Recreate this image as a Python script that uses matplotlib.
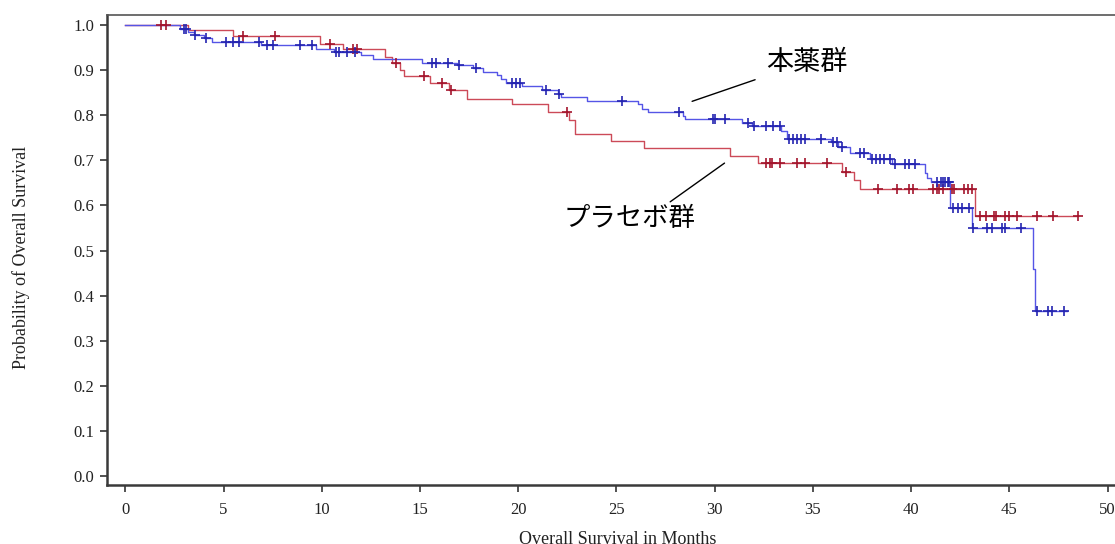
import numpy as np
import matplotlib.pyplot as plt

# Kaplan-Meier curves
# drug arm (本薬群): event times (months) and survival after each step
drug_times = [2.8, 3.2, 3.5, 4.0, 4.4, 6.9, 9.7, 10.6, 12.0, 12.6, 15.1, 16.9, 17.7,
              18.2, 18.9, 19.1, 19.4, 20.2, 21.2, 22.0, 22.2, 23.5, 26.1, 26.3, 26.6,
              28.4, 28.5, 31.4, 31.9, 33.4, 33.7, 35.9, 36.3, 36.9, 37.9, 39.0, 40.7,
              40.8, 41.0, 42.0, 43.1, 46.2, 46.3]
drug_surv = [0.991, 0.985, 0.979, 0.972, 0.962, 0.956, 0.947, 0.940, 0.933, 0.926,
             0.916, 0.911, 0.904, 0.896, 0.889, 0.880, 0.872, 0.865, 0.856, 0.847,
             0.840, 0.831, 0.826, 0.815, 0.808, 0.798, 0.791, 0.784, 0.776, 0.765,
             0.747, 0.741, 0.730, 0.716, 0.704, 0.691, 0.673, 0.662, 0.653, 0.594,
             0.551, 0.459, 0.367]
drug_censor = [3.0, 3.1, 3.55, 4.1, 5.1, 5.5, 5.8, 6.8, 7.2, 7.5, 8.9, 9.5, 10.7, 10.9,
               11.3, 11.7, 15.6, 15.8, 16.4, 17.0, 17.85, 19.7, 19.9, 20.1, 21.4, 22.1,
               25.3, 28.2, 29.9, 30.0, 30.5, 31.7, 32.0, 32.6, 32.95, 33.3, 33.8, 34.0,
               34.2, 34.4, 34.6, 35.4, 36.0, 36.2, 36.5, 37.4, 37.6, 38.0, 38.2, 38.4,
               38.6, 38.9, 39.2, 39.7, 39.9, 40.2, 41.3, 41.5, 41.6, 41.7, 41.9, 41.95,
               42.15, 42.4, 42.6, 42.95, 43.15, 43.85, 44.1, 44.6, 44.8, 45.6, 46.4,
               46.98, 47.15, 47.8]
drug_end = 47.95

# placebo arm (プラセボ群)
plac_times = [3.2, 5.5, 9.9, 11.1, 13.2, 13.6, 14.0, 14.2, 15.5, 16.5, 17.4, 19.7,
              21.5, 22.6, 22.9, 24.7, 26.4, 30.8, 32.2, 36.5, 37.1, 37.4, 43.25]
plac_surv = [0.990, 0.976, 0.959, 0.946, 0.930, 0.916, 0.900, 0.887, 0.872, 0.856,
             0.837, 0.825, 0.808, 0.790, 0.758, 0.743, 0.727, 0.710, 0.695, 0.675,
             0.656, 0.636, 0.577]
plac_censor = [1.8, 2.05, 6.0, 7.6, 10.4, 11.6, 11.8, 13.8, 15.2, 16.1, 16.6, 22.5,
               32.6, 32.8, 32.9, 33.3, 34.2, 34.6, 35.7, 36.7, 38.3, 39.3, 39.9, 40.1,
               41.1, 41.3, 41.4, 41.6, 42.1, 42.2, 42.7, 42.9, 43.1, 43.5, 43.8, 44.2,
               44.3, 44.8, 45.0, 45.4, 46.4, 47.2, 48.5]
plac_end = 48.5

x_ticks = [0, 5, 10, 15, 20, 25, 30, 35, 40, 45, 50]
y_ticks = [0.0, 0.1, 0.2, 0.3, 0.4, 0.5, 0.6, 0.7, 0.8, 0.9, 1.0]

fig = plt.figure(figsize=(11.15, 5.44), dpi=100)
# axes runs past the right edge, like the cropped original
ax = fig.add_axes([0.096, 0.1085, 0.915, 0.8635])


def km_curve(times, surv, censor, end, line_col, mark_col):
    t = np.r_[0.0, times, end]
    s = np.r_[1.0, surv, surv[-1]]
    ax.step(t, s, where="post", color=line_col, lw=1.0, zorder=2)
    idx = np.searchsorted(t, censor, side="right") - 1
    ax.plot(censor, s[idx], ls="none", marker="+", ms=6.5, mew=1.2,
            color=mark_col, zorder=3)


km_curve(plac_times, plac_surv, plac_censor, plac_end, "#cc4a58", "#a3142c")
km_curve(drug_times, drug_surv, drug_censor, drug_end, "#5555e6", "#2424b0")

ax.set_xlim(-0.93, 51.0)
ax.set_ylim(-0.02, 1.022)
ax.set_xticks(x_ticks)
ax.set_yticks(y_ticks)
ax.set_xticklabels([str(v) for v in x_ticks])
ax.set_yticklabels(["%.1f" % v for v in y_ticks])

for lab in ax.get_xticklabels() + ax.get_yticklabels():
    lab.set_family("Liberation Serif")
    lab.set_fontsize(12)
    lab.set_color("#222222")
ax.tick_params(direction="out", length=5, width=1.3, color="#444444", pad=4)
ax.tick_params(axis="x", pad=7)

ax.spines["left"].set_linewidth(1.8)
ax.spines["bottom"].set_linewidth(1.8)
ax.spines["left"].set_color("#3a3a3a")
ax.spines["bottom"].set_color("#3a3a3a")
ax.spines["top"].set_linewidth(1.2)
ax.spines["top"].set_color("#555555")
ax.spines["right"].set_visible(False)

ax.set_xlabel("Overall Survival in Months", family="Liberation Serif", fontsize=13,
              color="#222222")
ax.xaxis.set_label_coords((618 - 107) / 1020, -0.098)
ax.set_ylabel("Probability of Overall Survival", family="Liberation Serif",
              fontsize=13, color="#222222")
ax.yaxis.set_label_coords(-0.0755, 0.484)

jp = ["Noto Sans CJK JP", "DejaVu Sans"]
ax.annotate("本薬群", xy=(28.85, 0.831), xytext=(32.6, 0.918), family=jp,
            fontsize=19.5, va="center", ha="left",
            arrowprops=dict(arrowstyle="-", color="black", lw=1.0,
                            shrinkA=6, shrinkB=0))
ax.annotate("プラセボ群", xy=(30.5, 0.694), xytext=(22.3, 0.572), family=jp,
            fontsize=19, va="center", ha="left",
            arrowprops=dict(arrowstyle="-", color="black", lw=1.0,
                            shrinkA=0, shrinkB=0, relpos=(0.78, 1.0)))

fig.savefig("out.png", dpi=100)
